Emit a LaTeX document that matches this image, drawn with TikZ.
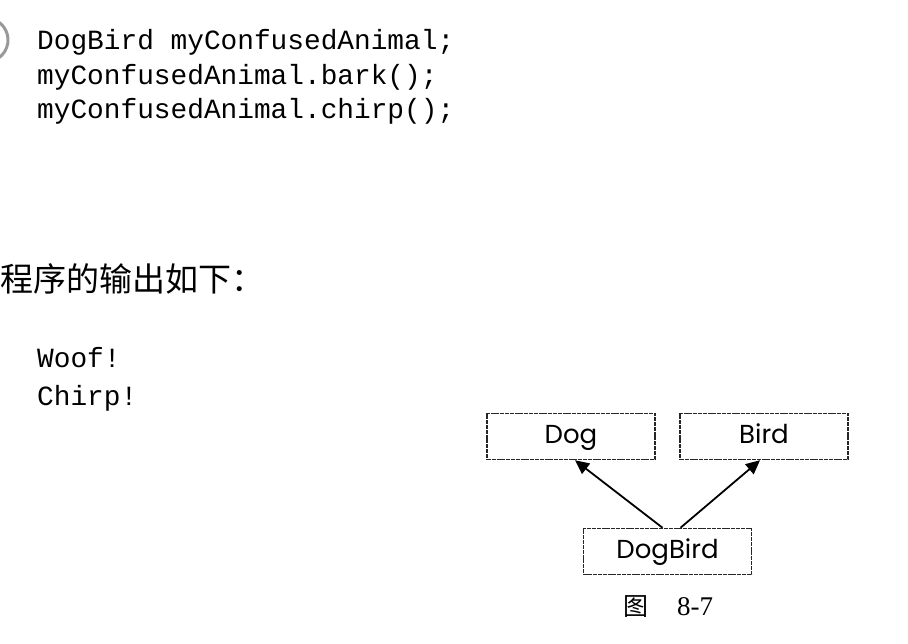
\documentclass[tikz,border=0pt]{standalone}
\usepackage{fontspec}
\setmainfont{Liberation Serif}
\newfontfamily\codefont{Liberation Mono}
\newfontfamily\cjk{Noto Sans CJK SC}
\newfontfamily\boxfont{Poppins}
\usetikzlibrary{arrows.meta,calc}
\begin{document}
\begin{tikzpicture}[x=1pt,y=-1pt,
  code/.style={anchor=base west,inner sep=0pt,font=\codefont\fontsize{27.8}{27.8}\selectfont},
  classbox/.style={draw=black!85,line width=1.5pt,dash pattern=on 4pt off 0.8pt,minimum width=168pt,minimum height=46pt,inner sep=0pt,text height=18pt,text depth=5pt,font=\boxfont\fontsize{26}{26}\selectfont},
  inherit/.style={line width=1.8pt,-{Triangle[width=13pt,length=14pt]}}]
\useasboundingbox (0,0) rectangle (908,644);
% partial margin icon
\draw[black!40,line width=3pt] (-14,40) ++(-70:22) arc[start angle=-70,end angle=70,radius=22];
% code
\node[code] (l1) at (37,50) {DogBird myConfusedAnimal;};
\node[code] (l2) at (37,85) {myConfusedAnimal.bark();};
\node[code] (l3) at (37,119) {myConfusedAnimal.chirp();};
% heading
\node[anchor=base west,inner sep=0pt,font=\cjk\fontsize{33}{33}\selectfont] (hd) at (0,292) {程序的输出如下：};
% output
\node[code] (o1) at (37,367) {Woof!};
\node[code] (o2) at (37,405) {Chirp!};
% diagram
\node[classbox] (dog) at (571,436.5) {Dog};
\node[classbox] (bird) at (764,436.5) {Bird};
\node[classbox] (db) at (667.5,551.5) {DogBird};
\draw[inherit] ($(db.north)+(-5,0)$) -- ($(dog.south)+(4,0)$);
\draw[inherit] ($(db.north)+(13,0)$) -- ($(bird.south)+(-4,0)$);
% caption
\node[anchor=base,inner sep=0pt,font=\cjk\fontsize{25}{25}\selectfont] (fig) at (636,615) {图};
\node[anchor=base west,inner sep=0pt,font=\fontsize{27}{27}\selectfont] (num) at (677,615) {8-7};
\end{tikzpicture}
\end{document}
